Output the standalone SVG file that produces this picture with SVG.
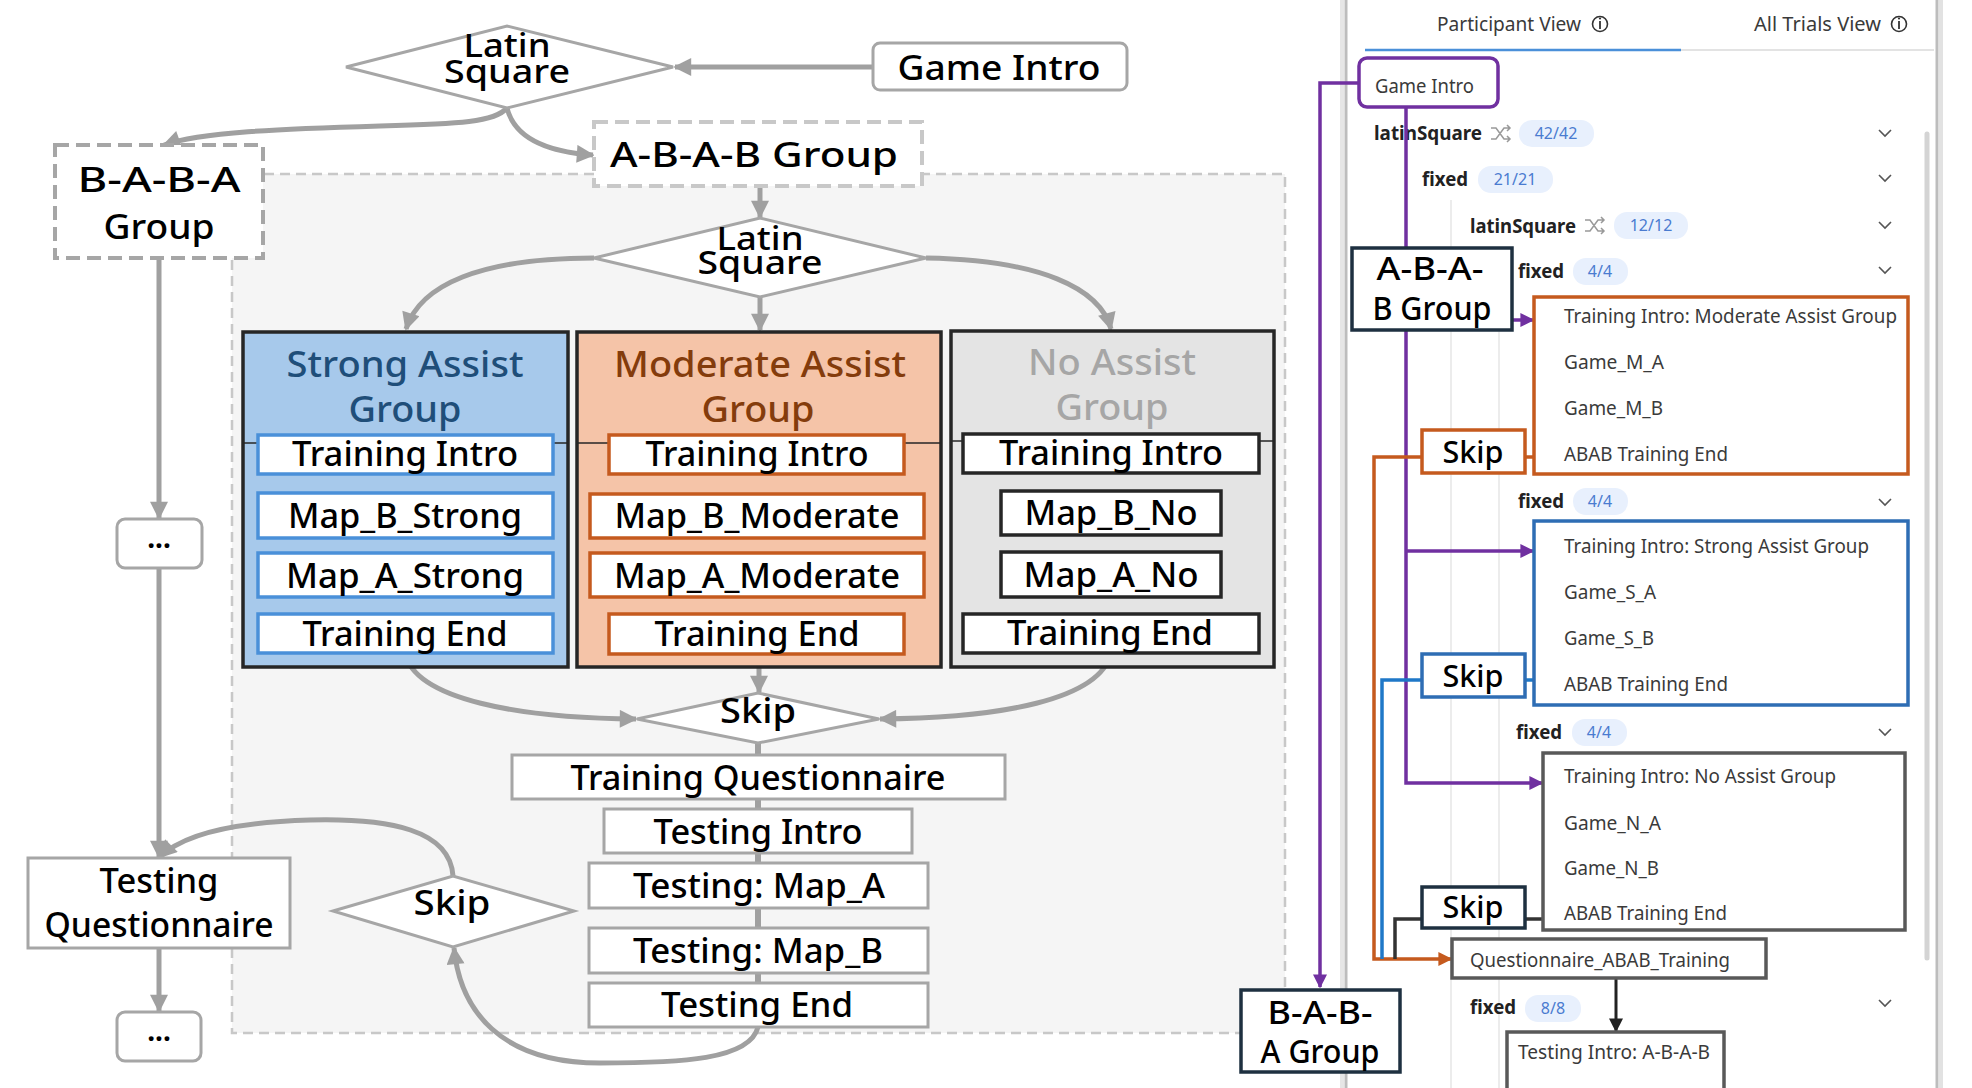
<svg xmlns="http://www.w3.org/2000/svg" width="1972" height="1088" viewBox="0 0 1972 1088">
<style>
.t{font-family:"Noto Sans","Liberation Sans",sans-serif;text-anchor:middle;fill:#000;font-size:34px;font-weight:500}
.tt{font-size:36px}
.gbox{fill:#fff;stroke:#a6a6a6;stroke-width:3}
.dia{fill:#fff;stroke:#a6a6a6;stroke-width:3}
.con{fill:none;stroke:#a0a0a0;stroke-width:5}
.bar{stroke:#a0a0a0;stroke-width:6}
.sb{fill:#fff;stroke:#4a90d9;stroke-width:3.5}
.mb{fill:#fff;stroke:#c55a1e;stroke-width:3.5}
.nb{fill:#fff;stroke:#262626;stroke-width:3.5}
.grp{stroke:#262626;stroke-width:3.5}
.sep{stroke:#262626;stroke-width:1.5}
.p{font-family:"Noto Sans","Liberation Sans",sans-serif;font-size:19px;fill:#3a3a3a}
.pb{font-family:"Noto Sans","Liberation Sans",sans-serif;font-size:19px;font-weight:bold;fill:#222}
.bd{fill:#e8f0fd}
.bt{font-family:"Noto Sans","Liberation Sans",sans-serif;font-size:16px;fill:#4a7bd0;text-anchor:middle}
.chev{fill:none;stroke:#555;stroke-width:1.6}
.pn{fill:#fff;stroke:#1e3040;stroke-width:3.5}
.pur{fill:none;stroke:#7030a0;stroke-width:3.5}
</style>
<defs>
<marker id="ag" viewBox="0 0 10 10" refX="9" refY="5" markerUnits="userSpaceOnUse" markerWidth="20" markerHeight="18" orient="auto"><path d="M0,0 L10,5 L0,10 z" fill="#a0a0a0"/></marker>
<marker id="ap" viewBox="0 0 10 10" refX="9" refY="5" markerUnits="userSpaceOnUse" markerWidth="14" markerHeight="14" orient="auto"><path d="M0,0 L10,5 L0,10 z" fill="#7030a0"/></marker>
<marker id="ao" viewBox="0 0 10 10" refX="9" refY="5" markerUnits="userSpaceOnUse" markerWidth="14" markerHeight="14" orient="auto"><path d="M0,0 L10,5 L0,10 z" fill="#c55a1e"/></marker>
<marker id="ak" viewBox="0 0 10 10" refX="9" refY="5" markerUnits="userSpaceOnUse" markerWidth="14" markerHeight="14" orient="auto"><path d="M0,0 L10,5 L0,10 z" fill="#222"/></marker>
</defs>
<rect width="1972" height="1088" fill="#fff"/>

<!-- region -->
<rect id="abab-region" x="232" y="174" width="1053" height="859" fill="#f5f5f5" stroke="#c8c8c8" stroke-width="2.5" stroke-dasharray="10 6"/>

<!-- right panel background -->
<g id="panel">
<rect x="1347" y="0" width="589" height="1088" fill="#fff"/>
<line x1="1342" y1="0" x2="1342" y2="1088" stroke="#e6e6e6" stroke-width="4"/>
<line x1="1346" y1="0" x2="1346" y2="1088" stroke="#bdbdbd" stroke-width="3"/>
<line x1="1937" y1="0" x2="1937" y2="1088" stroke="#bdbdbd" stroke-width="3"/>
<line x1="1941" y1="0" x2="1941" y2="1088" stroke="#e2e2e2" stroke-width="4"/>
<line x1="1365" y1="50" x2="1681" y2="50" stroke="#4a90d9" stroke-width="2.5"/>
<line x1="1681" y1="50" x2="1934" y2="50" stroke="#e3e3e3" stroke-width="2"/>
<line x1="1451" y1="200" x2="1451" y2="1088" stroke="#ececec" stroke-width="2"/>
<line x1="1499" y1="290" x2="1499" y2="1088" stroke="#ececec" stroke-width="2"/>
<line x1="1927" y1="134" x2="1927" y2="958" stroke="#d4d4d4" stroke-width="5" stroke-linecap="round"/>
<text class="p" x="1437" y="31" textLength="144" lengthAdjust="spacingAndGlyphs">Participant View</text>
<circle cx="1600" cy="24" r="7.5" fill="none" stroke="#333" stroke-width="1.6"/>
<line x1="1600" y1="21" x2="1600" y2="29" stroke="#333" stroke-width="1.8"/>
<circle cx="1600" cy="18.5" r="1.1" fill="#333"/>
<text class="p" x="1754" y="31" textLength="127" lengthAdjust="spacingAndGlyphs">All Trials View</text>
<circle cx="1899" cy="24" r="7.5" fill="none" stroke="#333" stroke-width="1.6"/>
<line x1="1899" y1="21" x2="1899" y2="29" stroke="#333" stroke-width="1.8"/>
<circle cx="1899" cy="18.5" r="1.1" fill="#333"/>

<text class="pb" x="1374" y="140" textLength="108" lengthAdjust="spacingAndGlyphs">latinSquare</text>
<path d="M1491,128 h5 l8,11 h6 M1491,139 h5 l8,-11 h6 M1507,125 l3,3 l-3,3 M1507,136 l3,3 l-3,3" fill="none" stroke="#999" stroke-width="1.5"/>
<rect class="bd" x="1519" y="120" width="75" height="27" rx="13"/>
<text class="bt" x="1556" y="139">42/42</text>
<path class="chev" d="M1879,130 l6,6 l6,-6"/>

<text class="pb" x="1422" y="186" textLength="46" lengthAdjust="spacingAndGlyphs">fixed</text>
<rect class="bd" x="1478" y="166" width="75" height="27" rx="13"/>
<text class="bt" x="1515" y="185">21/21</text>
<path class="chev" d="M1879,175 l6,6 l6,-6"/>

<text class="pb" x="1470" y="233" textLength="106" lengthAdjust="spacingAndGlyphs">latinSquare</text>
<path d="M1585,220 h5 l8,11 h6 M1585,231 h5 l8,-11 h6 M1601,217 l3,3 l-3,3 M1601,228 l3,3 l-3,3" fill="none" stroke="#999" stroke-width="1.5"/>
<rect class="bd" x="1614" y="212" width="74" height="27" rx="13"/>
<text class="bt" x="1651" y="231">12/12</text>
<path class="chev" d="M1879,222 l6,6 l6,-6"/>

<text class="pb" x="1518" y="278" textLength="46" lengthAdjust="spacingAndGlyphs">fixed</text>
<rect class="bd" x="1573" y="258" width="55" height="27" rx="13"/>
<text class="bt" x="1600" y="277">4/4</text>
<path class="chev" d="M1879,267 l6,6 l6,-6"/>

<text class="pb" x="1518" y="508" textLength="46" lengthAdjust="spacingAndGlyphs">fixed</text>
<rect class="bd" x="1573" y="488" width="55" height="27" rx="13"/>
<text class="bt" x="1600" y="507">4/4</text>
<path class="chev" d="M1879,499 l6,6 l6,-6"/>

<text class="pb" x="1516" y="739" textLength="46" lengthAdjust="spacingAndGlyphs">fixed</text>
<rect class="bd" x="1572" y="719" width="55" height="27" rx="13"/>
<text class="bt" x="1599" y="738">4/4</text>
<path class="chev" d="M1879,729 l6,6 l6,-6"/>

<text class="pb" x="1470" y="1014" textLength="46" lengthAdjust="spacingAndGlyphs">fixed</text>
<rect class="bd" x="1525" y="995" width="56" height="27" rx="13"/>
<text class="bt" x="1553" y="1014">8/8</text>
<path class="chev" d="M1879,1000 l6,6 l6,-6"/>
</g>

<!-- connectors -->
<g id="connectors">
<line class="con" x1="873" y1="67" x2="675" y2="67" marker-end="url(#ag)"/>
<path class="con" d="M507,108 C495,122 460,124 380,126 C280,129 200,132 164,145" marker-end="url(#ag)"/>
<path class="con" d="M507,108 C515,140 550,152 593,155" marker-end="url(#ag)"/>
<line class="con" x1="760" y1="186" x2="760" y2="217" marker-end="url(#ag)"/>
<path class="con" d="M594,258 C480,258 420,285 406,329" marker-end="url(#ag)"/>
<line class="con" x1="760" y1="297" x2="760" y2="330" marker-end="url(#ag)"/>
<path class="con" d="M926,258 C1040,260 1100,288 1111,329" marker-end="url(#ag)"/>
<line class="bar" x1="405" y1="474" x2="405" y2="493"/>
<line class="bar" x1="405" y1="538" x2="405" y2="553"/>
<line class="bar" x1="405" y1="597" x2="405" y2="614"/>
<line class="bar" x1="759" y1="474" x2="759" y2="494"/>
<line class="bar" x1="759" y1="538" x2="759" y2="553"/>
<line class="bar" x1="759" y1="597" x2="759" y2="614"/>
<line class="bar" x1="1111" y1="473" x2="1111" y2="491"/>
<line class="bar" x1="1111" y1="535" x2="1111" y2="552"/>
<line class="bar" x1="1111" y1="597" x2="1111" y2="614"/>
<path class="con" d="M405,653 C415,700 520,718 636,719" marker-end="url(#ag)"/>
<line class="con" x1="759" y1="654" x2="759" y2="692" marker-end="url(#ag)"/>
<path class="con" d="M1111,653 C1100,700 1000,718 880,719" marker-end="url(#ag)"/>
<line class="bar" x1="758" y1="743" x2="758" y2="983"/>
<path class="con" d="M758,1027 C750,1060 680,1063 600,1063 C500,1063 460,1010 454,948" marker-end="url(#ag)"/>
<path class="con" d="M453,876 C450,830 390,818 310,820 C240,822 185,832 160,857" marker-end="url(#ag)"/>
<line class="con" x1="159" y1="258" x2="159" y2="518" stroke-width="4.5" marker-end="url(#ag)"/>
<line class="con" x1="159" y1="568" x2="159" y2="857" stroke-width="4.5" marker-end="url(#ag)"/>
<line class="con" x1="159" y1="948" x2="159" y2="1011" stroke-width="4.5" marker-end="url(#ag)"/>

<!-- panel connectors -->
<path class="pur" d="M1359,83 H1320 V987" marker-end="url(#ap)"/>
<line class="pur" x1="1406" y1="107" x2="1406" y2="249"/>
<line class="pur" x1="1512" y1="320" x2="1533" y2="320" marker-end="url(#ap)"/>
<path class="pur" d="M1406,330 V783 H1542" marker-end="url(#ap)"/>
<line class="pur" x1="1406" y1="551" x2="1533" y2="551" marker-end="url(#ap)"/>
<path d="M1422,457 H1374 V959 H1451" fill="none" stroke="#c55a1e" stroke-width="3.5" marker-end="url(#ao)"/>
<line x1="1525" y1="457" x2="1535" y2="457" stroke="#c55a1e" stroke-width="3.5"/>
<path d="M1422,680 H1382 V959" fill="none" stroke="#1f78c8" stroke-width="3.5"/>
<line x1="1525" y1="680" x2="1535" y2="680" stroke="#1f78c8" stroke-width="3.5"/>
<path d="M1422,919 H1395 V959" fill="none" stroke="#333" stroke-width="3.5"/>
<line x1="1525" y1="919" x2="1544" y2="919" stroke="#333" stroke-width="3.5"/>
<line x1="1616" y1="978" x2="1616" y2="1031" stroke="#222" stroke-width="3" marker-end="url(#ak)"/>
</g>

<!-- left nodes -->
<g id="latin1"><path class="dia" d="M346,67 L507,26 L673,67 L507,108 Z"/>
<text class="t" x="507" y="57" style="font-size:32px" textLength="87" lengthAdjust="spacingAndGlyphs">Latin</text>
<text class="t" x="507" y="83" style="font-size:32px" textLength="126" lengthAdjust="spacingAndGlyphs">Square</text></g>

<g id="game-intro"><rect class="gbox" x="873" y="43" width="254" height="47" rx="7"/>
<text class="t" x="999" y="80" textLength="203" lengthAdjust="spacingAndGlyphs">Game Intro</text></g>

<g id="abab-group"><rect x="594" y="122" width="328" height="64" fill="#fff" stroke="#c8c8c8" stroke-width="4" stroke-dasharray="14 7"/>
<text class="t" x="754" y="167" textLength="288" lengthAdjust="spacingAndGlyphs">A-B-A-B Group</text></g>

<g id="baba-group"><rect x="55" y="145" width="208" height="113" fill="#fff" stroke="#a6a6a6" stroke-width="4" stroke-dasharray="14 7"/>
<text class="t" x="159" y="192" textLength="163" lengthAdjust="spacingAndGlyphs">B-A-B-A</text>
<text class="t" x="159" y="239" textLength="111" lengthAdjust="spacingAndGlyphs">Group</text></g>

<g id="latin2"><path class="dia" d="M594,258 L760,218 L926,258 L760,297 Z"/>
<text class="t" x="760" y="250" style="font-size:32px" textLength="87" lengthAdjust="spacingAndGlyphs">Latin</text>
<text class="t" x="760" y="274" style="font-size:32px" textLength="125" lengthAdjust="spacingAndGlyphs">Square</text></g>

<g id="strong-group"><rect class="grp" x="243" y="332" width="325" height="335" fill="#a7c9eb"/>
<line class="sep" x1="243" y1="443" x2="568" y2="443"/>
<text class="t tt" x="405" y="377" style="fill:#1f4e79" textLength="237" lengthAdjust="spacingAndGlyphs">Strong Assist</text>
<text class="t tt" x="405" y="422" style="fill:#1f4e79" textLength="113" lengthAdjust="spacingAndGlyphs">Group</text></g>
<g id="s-ti"><rect class="sb" x="258" y="435" width="295" height="39"/><text class="t" x="405" y="466" textLength="226" lengthAdjust="spacingAndGlyphs">Training Intro</text></g>
<g id="s-mb"><rect class="sb" x="258" y="493" width="295" height="45"/><text class="t" x="405" y="528" textLength="234" lengthAdjust="spacingAndGlyphs">Map_B_Strong</text></g>
<g id="s-ma"><rect class="sb" x="258" y="553" width="295" height="44"/><text class="t" x="405" y="588" textLength="238" lengthAdjust="spacingAndGlyphs">Map_A_Strong</text></g>
<g id="s-te"><rect class="sb" x="258" y="614" width="295" height="39"/><text class="t" x="405" y="646" textLength="205" lengthAdjust="spacingAndGlyphs">Training End</text></g>

<g id="moderate-group"><rect class="grp" x="577" y="332" width="364" height="335" fill="#f5c4a8"/>
<line class="sep" x1="577" y1="443" x2="941" y2="443"/>
<text class="t tt" x="760" y="377" style="fill:#843c0c" textLength="292" lengthAdjust="spacingAndGlyphs">Moderate Assist</text>
<text class="t tt" x="758" y="422" style="fill:#843c0c" textLength="113" lengthAdjust="spacingAndGlyphs">Group</text></g>
<g id="m-ti"><rect class="mb" x="609" y="435" width="295" height="39"/><text class="t" x="757" y="466" textLength="223" lengthAdjust="spacingAndGlyphs">Training Intro</text></g>
<g id="m-mb"><rect class="mb" x="590" y="494" width="334" height="44"/><text class="t" x="757" y="528" textLength="285" lengthAdjust="spacingAndGlyphs">Map_B_Moderate</text></g>
<g id="m-ma"><rect class="mb" x="590" y="553" width="334" height="44"/><text class="t" x="757" y="588" textLength="286" lengthAdjust="spacingAndGlyphs">Map_A_Moderate</text></g>
<g id="m-te"><rect class="mb" x="609" y="614" width="295" height="40"/><text class="t" x="757" y="646" textLength="205" lengthAdjust="spacingAndGlyphs">Training End</text></g>

<g id="no-group"><rect class="grp" x="951" y="331" width="323" height="336" fill="#e4e4e4"/>
<line class="sep" x1="951" y1="441" x2="1274" y2="441"/>
<text class="t tt" x="1112" y="375" style="fill:#a6a6a6" textLength="168" lengthAdjust="spacingAndGlyphs">No Assist</text>
<text class="t tt" x="1112" y="420" style="fill:#a6a6a6" textLength="113" lengthAdjust="spacingAndGlyphs">Group</text></g>
<g id="n-ti"><rect class="nb" x="963" y="434" width="296" height="39"/><text class="t" x="1111" y="465" textLength="224" lengthAdjust="spacingAndGlyphs">Training Intro</text></g>
<g id="n-mb"><rect class="nb" x="1001" y="491" width="220" height="44"/><text class="t" x="1111" y="525" textLength="173" lengthAdjust="spacingAndGlyphs">Map_B_No</text></g>
<g id="n-ma"><rect class="nb" x="1001" y="552" width="220" height="45"/><text class="t" x="1111" y="587" textLength="175" lengthAdjust="spacingAndGlyphs">Map_A_No</text></g>
<g id="n-te"><rect class="nb" x="963" y="614" width="296" height="39"/><text class="t" x="1110" y="645" textLength="206" lengthAdjust="spacingAndGlyphs">Training End</text></g>

<g id="skip-mid"><path class="dia" d="M637,719 L758,693 L879,719 L758,743 Z"/>
<text class="t" x="758" y="723" textLength="76" lengthAdjust="spacingAndGlyphs">Skip</text></g>

<g id="training-questionnaire"><rect class="gbox" x="512" y="755" width="493" height="44"/><text class="t" x="758" y="790" textLength="375" lengthAdjust="spacingAndGlyphs">Training Questionnaire</text></g>
<g id="testing-intro"><rect class="gbox" x="604" y="809" width="308" height="44"/><text class="t" x="758" y="844" textLength="209" lengthAdjust="spacingAndGlyphs">Testing Intro</text></g>
<g id="testing-map-a"><rect class="gbox" x="589" y="863" width="339" height="45"/><text class="t" x="759" y="898" textLength="252" lengthAdjust="spacingAndGlyphs">Testing: Map_A</text></g>
<g id="testing-map-b"><rect class="gbox" x="589" y="928" width="339" height="45"/><text class="t" x="758" y="963" textLength="250" lengthAdjust="spacingAndGlyphs">Testing: Map_B</text></g>
<g id="testing-end"><rect class="gbox" x="589" y="983" width="339" height="44"/><text class="t" x="757" y="1017" textLength="192" lengthAdjust="spacingAndGlyphs">Testing End</text></g>

<g id="skip-left"><path class="dia" d="M333,911 L453,876 L574,911 L453,947 Z"/>
<text class="t" x="452" y="915" textLength="77" lengthAdjust="spacingAndGlyphs">Skip</text></g>

<g id="testing-questionnaire"><rect class="gbox" x="28" y="858" width="262" height="90"/>
<text class="t" x="159" y="893" textLength="119" lengthAdjust="spacingAndGlyphs">Testing</text>
<text class="t" x="159" y="937" textLength="229" lengthAdjust="spacingAndGlyphs">Questionnaire</text></g>

<g id="ellipsis1"><rect class="gbox" x="117" y="519" width="85" height="49" rx="8"/><text class="t" x="159" y="548" style="font-size:28px;font-weight:bold">...</text></g>
<g id="ellipsis2"><rect class="gbox" x="117" y="1012" width="84" height="49" rx="8"/><text class="t" x="159" y="1041" style="font-size:28px;font-weight:bold">...</text></g>

<!-- panel nodes -->
<g id="p-game-intro"><rect x="1359" y="58" width="139" height="49" rx="8" fill="#fff" stroke="#7030a0" stroke-width="3.5"/>
<text class="p" x="1375" y="93" textLength="99" lengthAdjust="spacingAndGlyphs">Game Intro</text></g>

<g id="p-abab"><rect class="pn" x="1352" y="248" width="160" height="82"/>
<text class="t" x="1430" y="280" style="font-size:32px" textLength="107" lengthAdjust="spacingAndGlyphs">A-B-A-</text>
<text class="t" x="1432" y="320" style="font-size:32px" textLength="119" lengthAdjust="spacingAndGlyphs">B Group</text></g>

<g id="p-moderate"><rect x="1534" y="297" width="374" height="177" fill="none" stroke="#c55a1e" stroke-width="3.5"/>
<text class="p" x="1564" y="323" textLength="333" lengthAdjust="spacingAndGlyphs">Training Intro: Moderate Assist Group</text>
<text class="p" x="1564" y="369" textLength="100" lengthAdjust="spacingAndGlyphs">Game_M_A</text>
<text class="p" x="1564" y="415" textLength="99" lengthAdjust="spacingAndGlyphs">Game_M_B</text>
<text class="p" x="1564" y="461" textLength="164" lengthAdjust="spacingAndGlyphs">ABAB Training End</text></g>

<g id="p-skip-m"><rect x="1422" y="430" width="103" height="43" fill="#fff" stroke="#c55a1e" stroke-width="3.5"/>
<text class="t" x="1473" y="463" style="font-size:31px" textLength="61" lengthAdjust="spacingAndGlyphs">Skip</text></g>

<g id="p-strong"><rect x="1534" y="521" width="374" height="184" fill="none" stroke="#2e6db4" stroke-width="3.5"/>
<text class="p" x="1564" y="553" textLength="305" lengthAdjust="spacingAndGlyphs">Training Intro: Strong Assist Group</text>
<text class="p" x="1564" y="599" textLength="92" lengthAdjust="spacingAndGlyphs">Game_S_A</text>
<text class="p" x="1564" y="645" textLength="90" lengthAdjust="spacingAndGlyphs">Game_S_B</text>
<text class="p" x="1564" y="691" textLength="164" lengthAdjust="spacingAndGlyphs">ABAB Training End</text></g>

<g id="p-skip-s"><rect x="1422" y="654" width="103" height="43" fill="#fff" stroke="#2e6db4" stroke-width="3.5"/>
<text class="t" x="1473" y="687" style="font-size:31px" textLength="61" lengthAdjust="spacingAndGlyphs">Skip</text></g>

<g id="p-no"><rect x="1543" y="753" width="362" height="177" fill="none" stroke="#595959" stroke-width="3.5"/>
<text class="p" x="1564" y="783" textLength="272" lengthAdjust="spacingAndGlyphs">Training Intro: No Assist Group</text>
<text class="p" x="1564" y="830" textLength="97" lengthAdjust="spacingAndGlyphs">Game_N_A</text>
<text class="p" x="1564" y="875" textLength="95" lengthAdjust="spacingAndGlyphs">Game_N_B</text>
<text class="p" x="1564" y="920" textLength="163" lengthAdjust="spacingAndGlyphs">ABAB Training End</text></g>

<g id="p-skip-n"><rect class="pn" x="1422" y="887" width="103" height="41"/>
<text class="t" x="1473" y="918" style="font-size:31px" textLength="61" lengthAdjust="spacingAndGlyphs">Skip</text></g>

<g id="p-questionnaire"><rect x="1452" y="939" width="314" height="39" fill="#fff" stroke="#595959" stroke-width="3.5"/>
<text class="p" x="1470" y="967" textLength="260" lengthAdjust="spacingAndGlyphs">Questionnaire_ABAB_Training</text></g>

<g id="p-testing-intro"><rect x="1507" y="1032" width="217" height="70" fill="#fff" stroke="#595959" stroke-width="3.5"/>
<text class="p" x="1518" y="1059" textLength="192" lengthAdjust="spacingAndGlyphs">Testing Intro: A-B-A-B</text></g>

<g id="p-baba"><rect class="pn" x="1241" y="990" width="159" height="82"/>
<text class="t" x="1320" y="1024" style="font-size:32px" textLength="105" lengthAdjust="spacingAndGlyphs">B-A-B-</text>
<text class="t" x="1320" y="1063" style="font-size:32px" textLength="119" lengthAdjust="spacingAndGlyphs">A Group</text></g>
</svg>
